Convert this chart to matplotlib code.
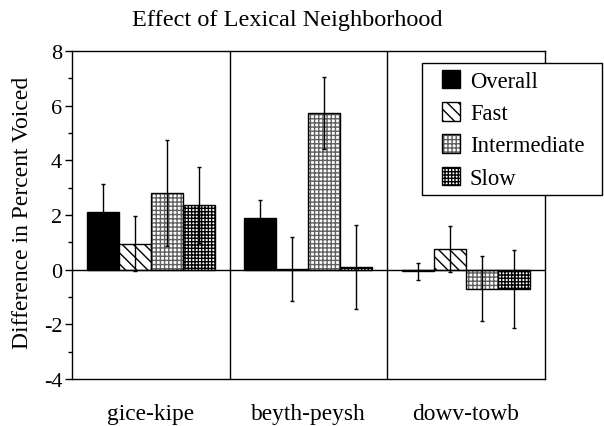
import numpy as np
import matplotlib
matplotlib.use('Agg')
import matplotlib.pyplot as plt
from matplotlib.patches import Patch, Rectangle
from matplotlib.legend_handler import HandlerPatch, HandlerTuple

plt.rcParams['font.family'] = ['Liberation Serif', 'DejaVu Serif']
plt.rcParams['axes.unicode_minus'] = False
plt.rcParams['hatch.linewidth'] = 1.0

groups = ['gice-kipe', 'beyth-peysh', 'dowv-towb']
series = ['Overall', 'Fast', 'Intermediate', 'Slow']

overall = [2.12, 1.88, -0.06]
overall_err = [1.02, 0.67, 0.32]
fast = [0.95, 0.03, 0.76]
fast_err = [1.00, 1.16, 0.83]
intermediate = [2.81, 5.74, -0.70]
intermediate_err = [1.94, 1.31, 1.19]
slow = [2.37, 0.10, -0.70]
slow_err = [1.40, 1.53, 1.42]

values = [overall, fast, intermediate, slow]
errors = [overall_err, fast_err, intermediate_err, slow_err]
faces = ['black', 'white', 'white', 'white']
hatches = [None, '\\\\\\', '++++', '+++++']
hatch_cols = ['black', 'black', '#606060', 'black']

fig = plt.figure(figsize=(6.04, 4.27), dpi=100)
ax = fig.add_axes([0.119, 0.110, 0.783, 0.768])

x = np.arange(len(groups)) + 0.5
w = 0.203
handles = []
for i in range(4):
    pos = x + (i - 1.5) * w
    # fill + hatch first, then black outline and error bars on top
    ax.bar(pos, values[i], w, color=faces[i], edgecolor=hatch_cols[i],
           linewidth=0, hatch=hatches[i])
    ax.bar(pos, values[i], w, yerr=errors[i], fill=False, edgecolor='black',
           linewidth=1.0,
           error_kw=dict(ecolor='black', elinewidth=1.0, capsize=1.5, capthick=1.0))
    handles.append((Patch(facecolor=faces[i], edgecolor=hatch_cols[i], linewidth=0,
                          hatch=hatches[i]),
                    Patch(fill=False, edgecolor='black', linewidth=1.0)))

ax.axhline(0, color='black', lw=1.0)
for sep in [1, 2]:
    ax.axvline(sep, color='black', lw=1.0)

ax.set_xlim(0, 3)
ax.set_ylim(-4, 8)
ax.set_yticks([-4, -2, 0, 2, 4, 6, 8])
ax.set_yticks([-3, -1, 1, 3, 5, 7], minor=True)
ax.set_xticks(x)
ax.set_xticklabels(groups, fontsize=16.8)
ax.tick_params(axis='x', length=0, pad=17.5)
ax.tick_params(axis='y', which='major', length=5, width=1, labelsize=16, pad=2)
ax.tick_params(axis='y', which='minor', length=3, width=1)
for s in ax.spines.values():
    s.set_linewidth(1.0)

ax.set_ylabel('Difference in Percent Voiced', fontsize=17)
ax.yaxis.set_label_coords(-0.082, 0.51)

fig.text(0.475, 0.953, 'Effect of Lexical Neighborhood', fontsize=17.5,
         ha='center', va='center')


def square(legend, orig_handle, xdescent, ydescent, width, height, fontsize):
    # draw the key as a square at the right end of the handle box
    return Rectangle((-xdescent + width - height, -ydescent), height, height)


leg = ax.legend(handles=handles, labels=series, loc='upper left',
                bbox_to_anchor=(0.699, 0.4, 0.298, 0.45), mode='expand',
                bbox_transform=fig.transFigure, fontsize=16.3, frameon=True,
                fancybox=False, edgecolor='black', framealpha=1,
                handler_map={tuple: HandlerTuple(ndivide=1, pad=0),
                             Patch: HandlerPatch(patch_func=square)},
                handlelength=1.37, handleheight=0.88, handletextpad=0.44,
                borderpad=0.3, labelspacing=0.45, borderaxespad=0)
leg.get_frame().set_linewidth(1.0)

fig.savefig('out.png', dpi=100)
